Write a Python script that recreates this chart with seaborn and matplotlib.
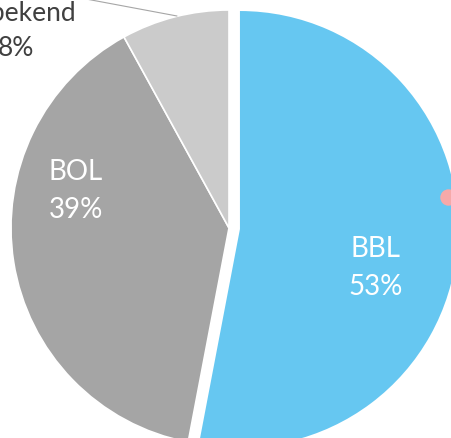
import matplotlib
matplotlib.use("Agg")
import matplotlib.pyplot as plt
import seaborn as sns

# data
labels = ["BBL", "BOL", "Onbekend"]
shares = [53, 39, 8]
colors = ["#66C7F1", "#A5A5A5", "#CBCBCB"]

sns.set_theme(style="white")
plt.rcParams["font.family"] = ["Lato", "DejaVu Sans"]

fig = plt.figure(figsize=(4.52, 4.38), dpi=100)
ax = fig.add_axes([0, 0, 1, 1])

# pie is bigger than the canvas, so it gets cropped like the reference
# (explode is an absolute offset in data units here)
wedges, _ = ax.pie(
    shares,
    colors=colors,
    startangle=90,
    counterclock=False,
    explode=[11, 0, 0],
    radius=218,
    center=(229, 210),
    wedgeprops=dict(edgecolor="white", linewidth=1.2),
)
wedges[0].set_linewidth(0)

ax.set_xlim(0, 452)
ax.set_ylim(0, 438)
ax.set_aspect("equal")
ax.axis("off")

# labels
fs = 20
ax.text(76, 247, "BOL\n39%", color="white", fontsize=fs, ha="center", va="center", linespacing=1.55)
ax.text(376, 170, "BBL\n53%", color="white", fontsize=fs, ha="center", va="center", linespacing=1.55)
ax.text(16, 407, "Onbekend\n8%", color="#404040", fontsize=19, ha="center", va="center", linespacing=1.5)
ax.plot([86, 177], [439, 422], color="#A6A6A6", lw=0.8)

# pink marker peeking at the right edge
ax.scatter([448], [241], s=140, color="#F6A9A9", zorder=5, linewidths=0)

fig.savefig("out.png", dpi=100)
